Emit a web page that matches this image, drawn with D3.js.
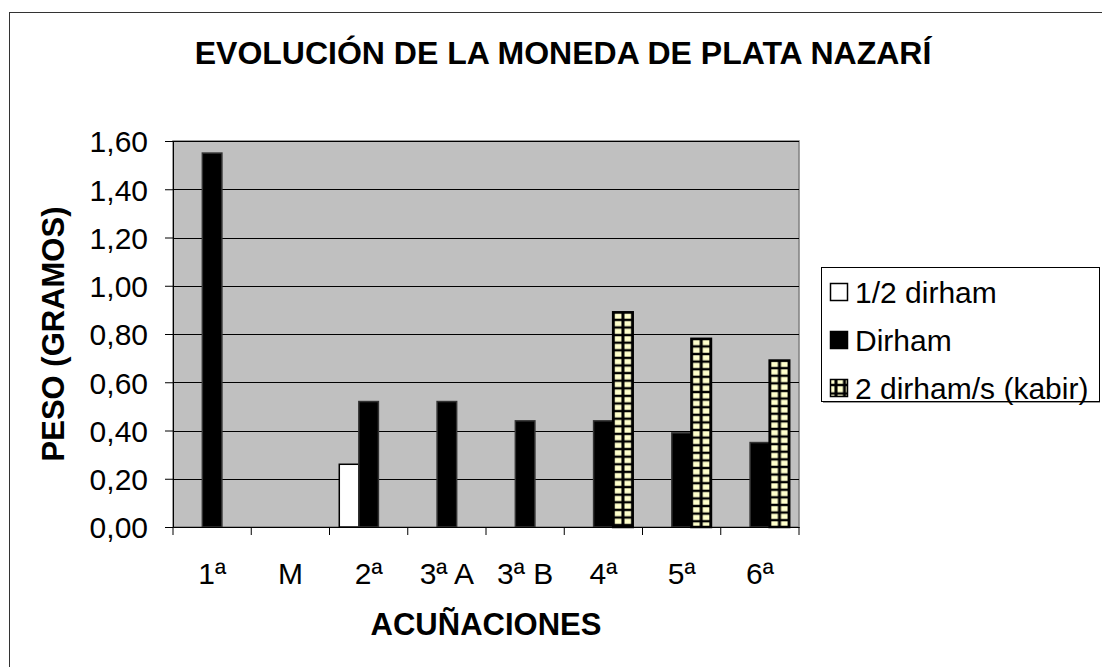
<!DOCTYPE html>
<html>
<head>
  <script src="https://d3js.org/d3.v7.min.js"></script>
  <style type="text/css">
    body { margin: 0; background: #fff; }
    svg { display: block; font-family: "Liberation Sans", Arial, sans-serif; }
  </style>
</head>
<body>
<svg id="chart" width="1102" height="667"></svg>
<script type="text/javascript">
// values
const categories = ['1ª', 'M', '2ª', '3ª A', '3ª B', '4ª', '5ª', '6ª'];
const seriesNames = ['1/2 dirham', 'Dirham', '2 dirham/s (kabir)'];
const halfDirham = [null, null, 0.26, null, null, null, null, null];
const dirham = [1.55, null, 0.52, 0.52, 0.44, 0.44, 0.39, 0.35];
const kabir = [null, null, null, null, null, 0.89, 0.78, 0.69];
const yTicks = [0, 0.2, 0.4, 0.6, 0.8, 1.0, 1.2, 1.4, 1.6];

const seriesValues = [halfDirham, dirham, kabir];

const svg = d3.select('#chart');
const defs = svg.append('defs');

// grid hatch, aligned on the left edge of each shape
function gridPattern(id, x0, y0, w, h) {
  const p = defs.append('pattern')
    .attr('id', id)
    .attr('patternUnits', 'userSpaceOnUse')
    .attr('x', x0).attr('y', y0)
    .attr('width', w).attr('height', h);
  p.append('rect').attr('width', w).attr('height', h).attr('fill', '#000');
  p.append('rect').attr('x', 1.5).attr('y', 1.2).attr('width', w - 3).attr('height', h - 2.4).attr('fill', '#ffffcc');
  return `url(#${id})`;
}

// chart frame (cut off on the right and bottom)
svg.append('rect')
  .attr('x', 9.5).attr('y', 12.5)
  .attr('width', 1200).attr('height', 800)
  .attr('fill', 'none').attr('stroke', '#333');

const plot = { left: 173, top: 141, right: 799, bottom: 527 };

const x = d3.scaleBand().domain(categories).range([plot.left, plot.right]).padding(0);
const bw = x.bandwidth();
const xs = d3.scaleBand().domain(d3.range(3)).range([bw / 8, bw * 7 / 8]).padding(0);
const y = d3.scaleLinear().domain([0, 1.6]).range([plot.bottom, plot.top]);

// plot background
svg.append('rect')
  .attr('x', plot.left).attr('y', plot.top)
  .attr('width', plot.right - plot.left).attr('height', plot.bottom - plot.top)
  .attr('fill', '#c0c0c0').attr('stroke', '#808080').attr('stroke-width', 1.5);

// gridlines
svg.append('g').selectAll('line')
  .data(yTicks.slice(1))
  .join('line')
  .attr('x1', plot.left).attr('x2', plot.right)
  .attr('y1', d => Math.round(y(d)) + 0.5).attr('y2', d => Math.round(y(d)) + 0.5)
  .attr('stroke', '#000');

// bars
const bars = [];
seriesValues.forEach((vals, s) => {
  vals.forEach((v, i) => { if (v != null) bars.push({ s: s, cat: categories[i], v: v }); });
});

function barFill(d, i) {
  if (d.s === 0) return '#ffffff';
  if (d.s === 1) return '#000000';
  return gridPattern('grid' + i, x(d.cat) + xs(d.s), y(d.v), xs.bandwidth() / 2, 7.6);
}

svg.append('g').selectAll('rect')
  .data(bars)
  .join('rect')
  .attr('x', d => x(d.cat) + xs(d.s))
  .attr('y', d => y(d.v))
  .attr('width', xs.bandwidth())
  .attr('height', d => y(0) - y(d.v))
  .attr('fill', barFill)
  .attr('stroke', d => d.s === 1 ? '#333' : '#000')
  .attr('stroke-width', d => d.s === 2 ? 2.5 : 1.5);

// axes
const yAxis = svg.append('g')
  .attr('transform', `translate(${plot.left},0)`)
  .call(d3.axisLeft(y).tickValues(yTicks).tickSize(8).tickPadding(17)
    .tickFormat(d => d3.format('.2f')(d).replace('.', ',')));
const xAxis = svg.append('g')
  .attr('transform', `translate(0,${plot.bottom})`)
  .call(d3.axisBottom(x).tickSize(0));

// tick marks between categories
xAxis.selectAll('.sep')
  .data(d3.range(categories.length + 1))
  .join('line')
  .attr('class', 'sep')
  .attr('x1', i => plot.left + i * bw).attr('x2', i => plot.left + i * bw)
  .attr('y1', 0).attr('y2', 8)
  .attr('stroke', '#000');

[yAxis, xAxis].forEach(g => {
  g.select('.domain').attr('stroke', '#000');
  g.selectAll('.tick line').attr('stroke', '#000');
  g.selectAll('text')
    .attr('font-family', '"Liberation Sans", Arial, sans-serif')
    .attr('font-size', 30).attr('fill', '#000');
});
yAxis.selectAll('text').attr('dy', '0.36em');
xAxis.selectAll('.tick text').attr('y', 57).attr('dy', 0);

// titles
svg.append('text')
  .attr('x', 563).attr('y', 64)
  .attr('text-anchor', 'middle')
  .attr('font-size', 32).attr('font-weight', 'bold')
  .text('EVOLUCIÓN DE LA MONEDA DE PLATA NAZARÍ');

svg.append('text')
  .attr('x', 486).attr('y', 635)
  .attr('text-anchor', 'middle')
  .attr('font-size', 31).attr('font-weight', 'bold')
  .text('ACUÑACIONES');

svg.append('text')
  .attr('transform', `translate(64,${(plot.top + plot.bottom) / 2}) rotate(-90)`)
  .attr('text-anchor', 'middle')
  .attr('font-size', 31).attr('font-weight', 'bold')
  .text('PESO (GRAMOS)');

// legend
const legend = svg.append('g');
legend.append('rect')
  .attr('x', 821.5).attr('y', 267.5).attr('width', 278).attr('height', 134)
  .attr('fill', '#fff').attr('stroke', '#000');
legend.append('line')
  .attr('x1', 823).attr('x2', 1100).attr('y1', 402.5).attr('y2', 402.5)
  .attr('stroke', '#999');

const items = legend.selectAll('g.item')
  .data(seriesNames)
  .join('g')
  .attr('class', 'item')
  .attr('transform', (d, i) => `translate(830,${292 + i * 48})`);
items.append('rect')
  .attr('x', 0.5).attr('y', -8.5).attr('width', 17).attr('height', 17)
  .attr('fill', (d, i) => i === 0 ? '#ffffff' : i === 1 ? '#000000'
    : gridPattern('gridLegend', 830.5, 292 + 2 * 48 - 8.5, 8.5, 8.5))
  .attr('stroke', '#000').attr('stroke-width', 1.5);
items.append('text')
  .attr('x', 25).attr('y', 0).attr('dy', '0.36em')
  .attr('font-size', 30)
  .text(d => d);
</script>
</body>
</html>
